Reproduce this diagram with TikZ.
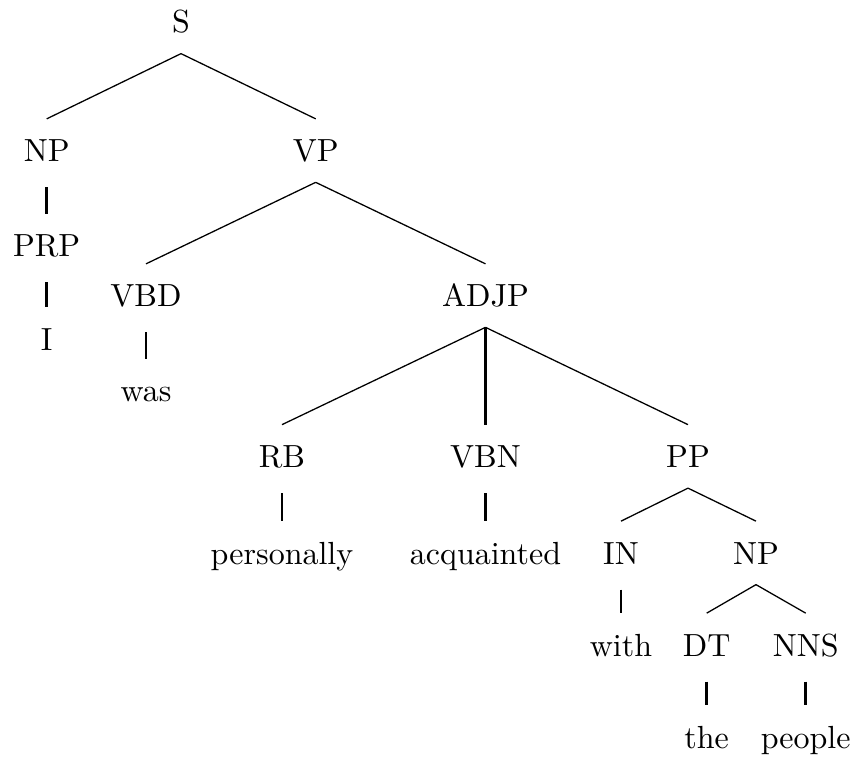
\documentclass[tikz,border=0pt]{standalone}
\begin{document}
\begin{tikzpicture}[x=0.3125pt, y=-0.3125pt,
  lab/.style={anchor=base, inner xsep=0pt, inner ysep=6.25pt,
              text height=6.94pt, text depth=0pt},
  branch/.style={line width=0.4pt},
  stem/.style={line width=0.8pt, shorten <=1.56pt}]
\useasboundingbox (0,0) rectangle (855,759);

% labels, placed on their baselines
\node[lab] (S)    at (181,33)    {S};
\node[lab] (NP)   at (46.7,161.7) {NP};
\node[lab] (VP)   at (315.7,161.7) {VP};
\node[lab] (PRP)  at (46.7,256.7) {PRP};
\node[lab] (I)    at (46.7,350)   {I};
\node[lab] (VBD)  at (146,306.7)  {VBD};
\node[lab] (was)  at (146,401.7)  {was};
\node[lab] (ADJP) at (485.5,306.7) {ADJP};
\node[lab] (RB)   at (282,467.5)  {RB};
\node[lab] (VBN)  at (485.5,467.5) {VBN};
\node[lab] (PP)   at (688,467.5)  {PP};
\node[lab] (pers) at (282,564)    {personally};
\node[lab] (acq)  at (485.5,564)  {acquainted};
\node[lab] (IN)   at (621,564)    {IN};
\node[lab] (NPb)  at (756,564)    {NP};
\node[lab] (with) at (621,656)    {with};
\node[lab] (DT)   at (706.7,656)  {DT};
\node[lab] (NNS)  at (805.7,656)  {NNS};
\node[lab] (the)  at (706.7,748)  {the};
\node[lab] (ppl)  at (805.7,748)  {people};

% branching edges
\draw[branch] (S.south) -- (NP.north);
\draw[branch] (S.south) -- (VP.north);
\draw[branch] (VP.south) -- (VBD.north);
\draw[branch] (VP.south) -- (ADJP.north);
\draw[branch] (ADJP.south) -- (RB.north);
\draw[branch] (ADJP.south) -- (PP.north);
\draw[branch] (PP.south) -- (IN.north);
\draw[branch] (PP.south) -- (NPb.north);
\draw[branch] (NPb.south) -- (DT.north);
\draw[branch] (NPb.south) -- (NNS.north);

% vertical edges
\draw[line width=0.8pt] (ADJP.south) -- (VBN.north);
\draw[stem] (NP.south) -- (PRP.north);
\draw[stem] (PRP.south) -- (I.north);
\draw[stem] (VBD.south) -- (was.north);
\draw[stem] (RB.south) -- (pers.north);
\draw[stem] (VBN.south) -- (acq.north);
\draw[stem] (IN.south) -- (with.north);
\draw[stem] (DT.south) -- (the.north);
\draw[stem] (NNS.south) -- (ppl.north);
\end{tikzpicture}
\end{document}
